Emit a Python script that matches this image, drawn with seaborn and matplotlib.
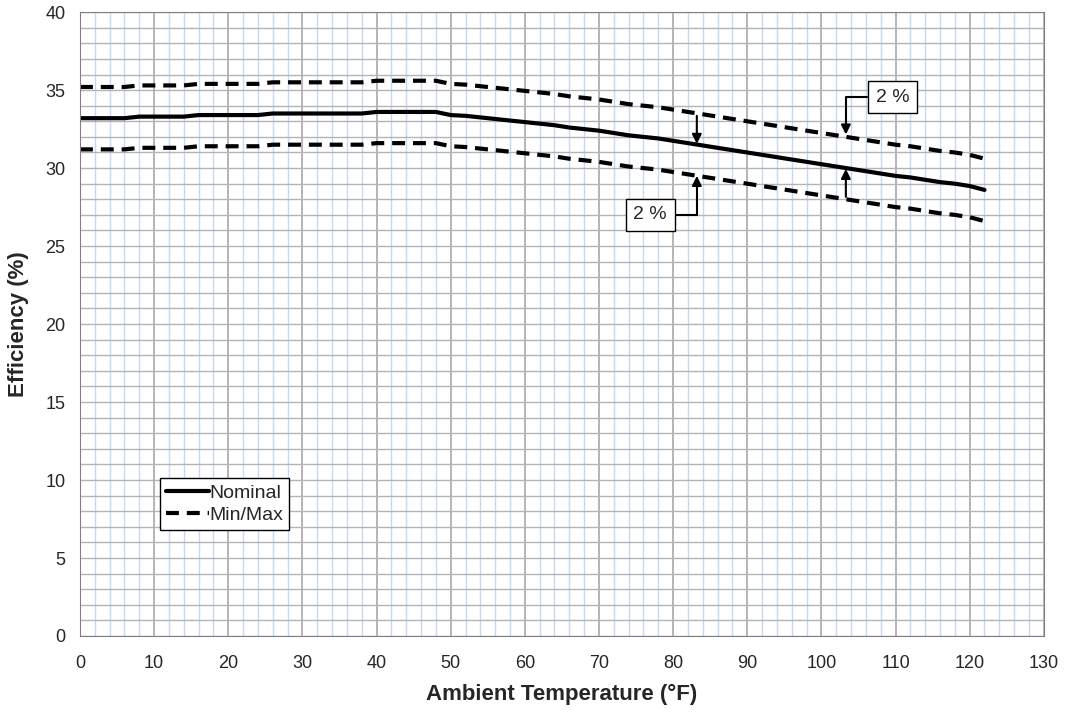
import numpy as np
import pandas as pd
import matplotlib
matplotlib.use("Agg")
import matplotlib.pyplot as plt
from matplotlib.ticker import MultipleLocator
import seaborn as sns

# data
temp_f = [0, 2, 4, 6, 8, 10, 12, 14, 16, 18, 20, 22, 24, 26, 28, 30, 32, 34, 36, 38,
          40, 42, 44, 46, 48, 50, 52, 54, 56, 58, 60, 62, 64, 66, 68, 70, 72, 74, 76, 78,
          80, 82, 84, 86, 88, 90, 92, 94, 96, 98, 100, 102, 104, 106, 108, 110, 112, 114,
          116, 118, 120, 122]
nominal = [33.2, 33.2, 33.2, 33.2, 33.3, 33.3, 33.3, 33.3, 33.4, 33.4, 33.4, 33.4, 33.4,
           33.5, 33.5, 33.5, 33.5, 33.5, 33.5, 33.5, 33.6, 33.6, 33.6, 33.6, 33.6, 33.4,
           33.35, 33.25, 33.15, 33.05, 32.95, 32.85, 32.75, 32.6, 32.5, 32.4, 32.25, 32.1,
           32.0, 31.9, 31.75, 31.6, 31.45, 31.3, 31.15, 31.0, 30.85, 30.7, 30.55, 30.4,
           30.25, 30.1, 29.95, 29.8, 29.65, 29.5, 29.4, 29.25, 29.1, 29.0, 28.85, 28.6]
maximum = [35.2, 35.2, 35.2, 35.2, 35.3, 35.3, 35.3, 35.3, 35.4, 35.4, 35.4, 35.4, 35.4,
           35.5, 35.5, 35.5, 35.5, 35.5, 35.5, 35.5, 35.6, 35.6, 35.6, 35.6, 35.6, 35.4,
           35.35, 35.25, 35.15, 35.05, 34.95, 34.85, 34.75, 34.6, 34.5, 34.4, 34.25, 34.1,
           34.0, 33.9, 33.75, 33.6, 33.45, 33.3, 33.15, 33.0, 32.85, 32.7, 32.55, 32.4,
           32.25, 32.1, 31.95, 31.8, 31.65, 31.5, 31.4, 31.25, 31.1, 31.0, 30.85, 30.6]
minimum = [31.2, 31.2, 31.2, 31.2, 31.3, 31.3, 31.3, 31.3, 31.4, 31.4, 31.4, 31.4, 31.4,
           31.5, 31.5, 31.5, 31.5, 31.5, 31.5, 31.5, 31.6, 31.6, 31.6, 31.6, 31.6, 31.4,
           31.35, 31.25, 31.15, 31.05, 30.95, 30.85, 30.75, 30.6, 30.5, 30.4, 30.25, 30.1,
           30.0, 29.9, 29.75, 29.6, 29.45, 29.3, 29.15, 29.0, 28.85, 28.7, 28.55, 28.4,
           28.25, 28.1, 27.95, 27.8, 27.65, 27.5, 27.4, 27.25, 27.1, 27.0, 26.85, 26.6]

# "2 %" callouts: text position and arrow target
callout_text = [(109.6, 34.55), (76.9, 27.0)]
callout_target = [(103.3, 32.15), (83.2, 29.5)]
# plain arrows between the curves: (x, start, end)
gap_arrows = [(83.2, 33.35, 31.55), (103.3, 28.15, 29.95)]

df = pd.DataFrame({"temp": temp_f, "nominal": nominal, "max": maximum, "min": minimum})

sns.set_style("white")
plt.rcParams['font.family'] = ['Liberation Sans', 'DejaVu Sans']

fig = plt.figure(figsize=(10.65, 7.13), dpi=100)
ax = fig.add_axes([0.0751, 0.108, 0.905, 0.875])

grid_gray = "#a8a8a8"
grid_blue = "#c6d9f1"

ax.set_xlim(0, 130)
ax.set_ylim(0, 40)
ax.xaxis.set_major_locator(MultipleLocator(10))
ax.xaxis.set_minor_locator(MultipleLocator(2))
ax.yaxis.set_major_locator(MultipleLocator(5))
ax.yaxis.set_minor_locator(MultipleLocator(1))
ax.grid(which="minor", axis="x", color=grid_blue, lw=1.0)
ax.grid(which="major", axis="x", color=grid_gray, lw=1.2)
ax.grid(which="both", axis="y", color="#b4b4b4", lw=1.0)
ax.set_axisbelow(True)

sns.lineplot(data=df, x="temp", y="nominal", ax=ax, color="black", lw=3, label="Nominal")
sns.lineplot(data=df, x="temp", y="max", ax=ax, color="black", lw=3, label="Min/Max")
sns.lineplot(data=df, x="temp", y="min", ax=ax, color="black", lw=3)
for ln in ax.lines[1:]:
    ln.set_dashes((3.1, 1.9))

for (tx, ty), (px, py) in zip(callout_text, callout_target):
    ax.annotate("2 %", xy=(px, py), xytext=(tx, ty), fontsize=14, ha="center", va="center",
                bbox=dict(boxstyle="square,pad=0.4", fc="white", ec="black", lw=1),
                arrowprops=dict(arrowstyle="-|>", color="black", lw=1.5, mutation_scale=14,
                                shrinkA=0, shrinkB=0,
                                connectionstyle="angle,angleA=0,angleB=90,rad=0"))
for x, y0, y1 in gap_arrows:
    ax.annotate("", xy=(x, y1), xytext=(x, y0),
                arrowprops=dict(arrowstyle="-|>", color="black", lw=1.5, mutation_scale=14,
                                shrinkA=0, shrinkB=0))

for s in ax.spines.values():
    s.set_color("#808080")
ax.tick_params(axis="x", which="major", length=4, color="#808080", labelsize=13,
               direction="out", pad=10)
ax.tick_params(axis="y", which="major", length=4, color="#808080", labelsize=13,
               direction="out", pad=6.5)
ax.tick_params(axis="x", which="minor", length=4, color="#808080", direction="in")
ax.tick_params(axis="y", which="minor", length=0)

ax.set_xlabel("Ambient Temperature (°F)", fontsize=16, fontweight="bold", labelpad=8)
ax.set_ylabel("Efficiency (%)", fontsize=16, fontweight="bold", labelpad=12)

leg = ax.legend(loc="lower left", bbox_to_anchor=(0.083, 0.17), fontsize=14,
                frameon=True, fancybox=False, edgecolor="black", framealpha=1,
                handlelength=2.2, handletextpad=0.05, borderpad=0.3, labelspacing=0.25,
                borderaxespad=0)
leg.get_frame().set_linewidth(1.0)

fig.savefig("out.png", dpi=100)
